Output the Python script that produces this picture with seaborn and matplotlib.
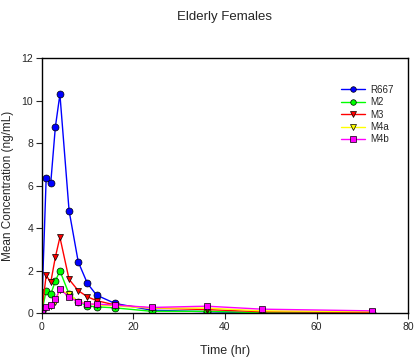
import matplotlib
matplotlib.use("Agg")
import matplotlib.pyplot as plt
import seaborn as sns
import pandas as pd

# sampling times (hr)
time_hr = [0, 1, 2, 3, 4, 6, 8, 10, 12, 16, 24, 36, 48, 72]

# mean concentrations (ng/mL)
r667 = [0, 6.35, 6.13, 8.75, 10.3, 4.83, 2.42, 1.41, 0.86, 0.47, 0.15, 0.08, 0.02, 0.0]
m2 = [0, 1.07, 0.90, 1.52, 2.00, 0.91, 0.55, 0.35, 0.31, 0.26, 0.10, 0.10, 0.03, 0.02]
m3 = [0, 1.79, 1.46, 2.64, 3.58, 1.60, 1.07, 0.78, 0.60, 0.40, 0.25, 0.18, 0.08, 0.05]
m4a = [0, 0.25, 0.35, 0.55, 1.10, 0.90, 0.55, 0.45, 0.40, 0.35, 0.25, 0.25, 0.12, 0.08]
m4b = [0, 0.31, 0.39, 0.66, 1.13, 0.78, 0.52, 0.44, 0.44, 0.39, 0.28, 0.34, 0.20, 0.12]

names = ["R667", "M2", "M3", "M4a", "M4b"]
series = [r667, m2, m3, m4a, m4b]

df = pd.concat([
    pd.DataFrame({"Time": time_hr, "Conc": vals, "Analyte": nm})
    for nm, vals in zip(names, series)
], ignore_index=True)

colors = {"R667": "#0000ff", "M2": "#00ff00", "M3": "#ff0000",
          "M4a": "#ffff00", "M4b": "#ff00ff"}
markers = {"R667": "o", "M2": "o", "M3": "v", "M4a": "v", "M4b": "s"}

sns.set_style("ticks")
plt.rcParams['font.family'] = ['Liberation Sans', 'DejaVu Sans']

fig = plt.figure(figsize=(4.2, 3.59), dpi=100)
ax = fig.add_axes([0.099, 0.127, 0.873, 0.711])

sns.lineplot(data=df, x="Time", y="Conc", hue="Analyte", style="Analyte",
             palette=colors, markers=markers, dashes=False, linewidth=1,
             markersize=5, markeredgecolor="black", markeredgewidth=0.5,
             ax=ax)

ax.set_xlim(0, 80)
ax.set_ylim(0, 12)
ax.set_xticks([0, 20, 40, 60, 80])
ax.set_yticks([0, 2, 4, 6, 8, 10, 12])
ax.tick_params(direction="out", length=4, width=0.8, labelsize=7.5, pad=2)
for s in ax.spines.values():
    s.set_linewidth(1)
    s.set_color("black")

ax.set_xlabel("Time (hr)", fontsize=9)
ax.xaxis.set_label_coords(0.5, -0.125)
ax.set_ylabel("Mean Concentration (ng/mL)", fontsize=8.5)
ax.yaxis.set_label_coords(-0.076, 0.5)
fig.text(0.535, 0.952, "Elderly Females", ha="center", va="center", fontsize=9.5)

leg = ax.legend(loc="upper right", bbox_to_anchor=(0.985, 0.93), frameon=False,
                fontsize=7, handlelength=2.4, labelspacing=0.25, handletextpad=0.6,
                markerscale=0.8)

fig.savefig("out.png", dpi=100)
